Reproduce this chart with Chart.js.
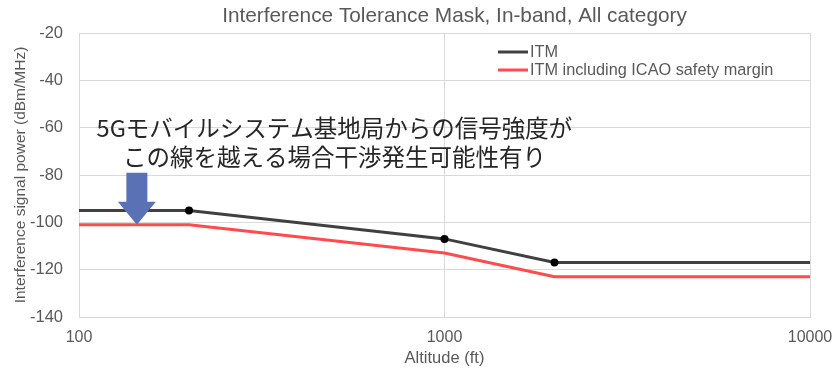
<!DOCTYPE html>
<html>
<head>
<meta charset="utf-8">
<script src="https://cdn.jsdelivr.net/npm/chart.js@4.4.1/dist/chart.umd.min.js"></script>
<style>
    html, body { margin: 0; padding: 0; background: #fff; }
    #wrap { width: 837px; height: 369px; position: relative; }
</style>
</head>
<body>
<div id="wrap"><canvas id="chart"></canvas></div>
<script>
// Chart values
const altitudes = [100, 200, 1000, 2000, 10000];
const itm = [-95, -95, -107, -117, -117];
const itmMargin = [-101, -101, -113, -123, -123];
const markerRadius = [0, 4, 4, 4, 0];
const xTicks = [100, 1000, 10000];
const seriesLabels = ['ITM', 'ITM including ICAO safety margin'];
const seriesColors = ['#404040', '#ff4b4b'];
const chartTitle = 'Interference Tolerance Mask, In-band, All category';
const noteLines = ['5Gモバイルシステム基地局からの信号強度が', 'この線を越える場合干渉発生可能性有り'];

const grey = '#595959';
const gridColor = '#d9d9d9';

function toPoints(ys) {
    return altitudes.map((x, i) => ({ x: x, y: ys[i] }));
}

// title, legend drawn inside the plot, and the note + arrow
const overlayPlugin = {
    id: 'overlay',
    afterDatasetsDraw(chart) {
        const ctx = chart.ctx;
        const area = chart.chartArea;
        const xs = chart.scales.x;
        const ys = chart.scales.y;
        ctx.save();

        // title (sits a little right of the plot centre, like the original)
        ctx.font = '20.8px "Liberation Sans", Arial, sans-serif';
        ctx.fillStyle = grey;
        ctx.textAlign = 'center';
        ctx.textBaseline = 'middle';
        ctx.fillText(chartTitle, (area.left + area.right) / 2 + 10, 16);

        // legend
        ctx.font = '16.3px "Liberation Sans", Arial, sans-serif';
        ctx.textAlign = 'left';
        seriesLabels.forEach((label, i) => {
            const lx = area.right - 312;
            const ly = area.top + 19 + i * 18;
            ctx.strokeStyle = seriesColors[i];
            ctx.lineWidth = 3;
            ctx.beginPath();
            ctx.moveTo(lx, ly);
            ctx.lineTo(lx + 30, ly);
            ctx.stroke();
            ctx.fillStyle = grey;
            ctx.fillText(label, lx + 32, ly + 1);
        });

        // arrow pointing to the ITM line
        const ax = xs.getPixelForValue(144);
        const top = ys.getPixelForValue(-79);
        const tip = ys.getPixelForValue(-101);
        const shaft = 10.5, head = 19, headLen = 23;
        ctx.fillStyle = '#5a72b5';
        ctx.beginPath();
        ctx.moveTo(ax - shaft, top);
        ctx.lineTo(ax + shaft, top);
        ctx.lineTo(ax + shaft, tip - headLen);
        ctx.lineTo(ax + head, tip - headLen);
        ctx.lineTo(ax, tip);
        ctx.lineTo(ax - head, tip - headLen);
        ctx.lineTo(ax - shaft, tip - headLen);
        ctx.closePath();
        ctx.fill();

        // note text
        ctx.font = '23.5px "Noto Sans CJK JP", sans-serif';
        ctx.fillStyle = '#262626';
        ctx.textAlign = 'center';
        const tx = xs.getPixelForValue(500);
        ctx.fillText(noteLines[0], tx, ys.getPixelForValue(-60));
        ctx.fillText(noteLines[1], tx, ys.getPixelForValue(-72.4));
        ctx.restore();
    }
};

const ctx = document.getElementById('chart').getContext('2d');
const chart = new Chart(ctx, {
    type: 'line',
    data: {
        datasets: [{
            label: seriesLabels[0],
            data: toPoints(itm),
            borderColor: seriesColors[0],
            backgroundColor: '#000',
            borderWidth: 3,
            pointRadius: markerRadius,
            pointBorderWidth: 0,
            pointBackgroundColor: '#000',
            tension: 0
        }, {
            label: seriesLabels[1],
            data: toPoints(itmMargin),
            borderColor: seriesColors[1],
            borderWidth: 3,
            pointRadius: 0,
            tension: 0
        }]
    },
    options: {
        responsive: true,
        maintainAspectRatio: false,
        animation: false,
        layout: {
            padding: { left: 0, right: 27, top: 33, bottom: 0 }
        },
        scales: {
            x: {
                type: 'logarithmic',
                min: 100,
                max: 10000,
                afterBuildTicks: (scale) => {
                    scale.ticks = xTicks.map(v => ({ value: v }));
                },
                afterFit: (scale) => {
                    scale.height = 52;
                    scale.paddingRight = 0;
                    scale.paddingLeft = 0;
                },
                ticks: {
                    color: grey,
                    font: { family: '"Liberation Sans", Arial', size: 16 },
                    padding: 11,
                    maxRotation: 0,
                    callback: (v) => String(v)
                },
                grid: { color: gridColor, lineWidth: 1, drawTicks: false },
                border: { color: gridColor },
                title: {
                    display: true,
                    text: 'Altitude (ft)',
                    color: grey,
                    font: { family: '"Liberation Sans", Arial', size: 16.5 },
                    padding: { top: 0, bottom: 1 }
                }
            },
            y: {
                min: -140,
                max: -20,
                afterFit: (scale) => {
                    scale.width = 79;
                    scale.paddingTop = 0;
                    scale.paddingBottom = 0;
                },
                ticks: {
                    stepSize: 20,
                    color: grey,
                    font: { family: '"Liberation Sans", Arial', size: 16.5 },
                    padding: 16
                },
                grid: { color: gridColor, lineWidth: 1, drawTicks: false },
                border: { color: gridColor },
                title: {
                    display: true,
                    text: 'Interference signal power (dBm/MHz)',
                    color: grey,
                    font: { family: '"Liberation Sans", Arial', size: 15.5 },
                    padding: { top: 11, bottom: 0 }
                }
            }
        },
        plugins: {
            legend: { display: false },
            tooltip: { enabled: false },
            title: { display: false }
        }
    },
    plugins: [overlayPlugin]
});
</script>
</body>
</html>
